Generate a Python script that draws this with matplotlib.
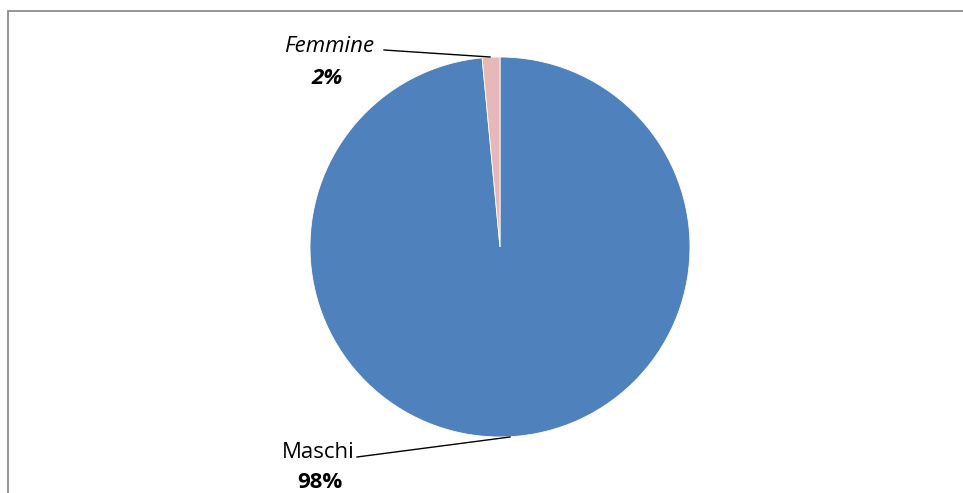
import matplotlib.pyplot as plt
from matplotlib.patches import Rectangle

# Dati
labels = ['Maschi', 'Femmine']
values = [98.5, 1.5]
pct_labels = ['98%', '2%']
colors = ['#4F81BD', '#E6B9B8']

plt.rcParams['font.family'] = ['Open Sans', 'DejaVu Sans']

fig = plt.figure(figsize=(9.63, 4.93), dpi=100)
W, H = 963, 493

# Cornice grigia (bordo destro e inferiore fuori dall'immagine)
fig.patches.append(Rectangle((8 / W, -0.05), 1.0, (H - 11) / H + 0.05,
                             transform=fig.transFigure, fill=False,
                             edgecolor='#8c8c8c', linewidth=1.3))

# Torta: centro (500, 247), raggio 190 px
cx, cy, r = 500, 247, 190
ax = fig.add_axes([(cx - r) / W, (H - cy - r) / H, 2 * r / W, 2 * r / H])
ax.pie(values, colors=colors, startangle=90, counterclock=False,
       wedgeprops=dict(edgecolor='white', linewidth=0.6))
ax.set_xlim(-1, 1)
ax.set_ylim(-1, 1)
ax.set_aspect('auto')
ax.axis('off')

def px(x, y):
    return x / W, 1 - y / H

# Linee guida
fig.add_artist(plt.Line2D(*zip(px(384, 50), px(490, 57)), color='black', lw=1))
fig.add_artist(plt.Line2D(*zip(px(357, 457), px(510, 437)), color='black', lw=1))

fs = 16
# Etichette
fig.text(*px(329, 46), labels[1], ha='center', va='center', fontsize=fs, style='italic')
fig.text(*px(327, 78), pct_labels[1], ha='center', va='center', fontsize=fs,
         style='italic', fontweight='bold')
fig.text(*px(318, 452), labels[0], ha='center', va='center', fontsize=fs)
fig.text(*px(320, 482), pct_labels[0], ha='center', va='center', fontsize=fs,
         fontweight='bold')

fig.savefig('out.png', dpi=100, facecolor='white')
